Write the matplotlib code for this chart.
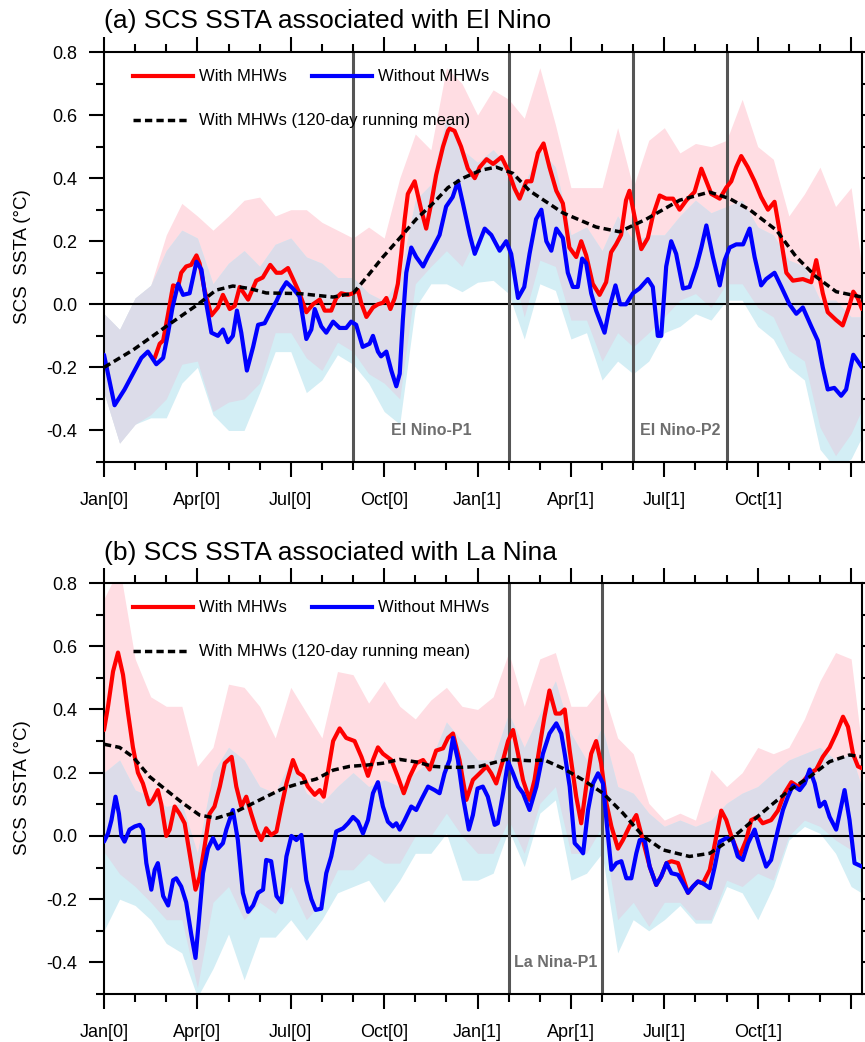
import numpy as np
import matplotlib
matplotlib.use("Agg")
import matplotlib.pyplot as plt
from matplotlib.lines import Line2D

plt.rcParams['font.family'] = ['Liberation Sans', 'DejaVu Sans']
plt.rcParams['axes.unicode_minus'] = False

# ---------------- data (months since Jan[0]) ----------------
MONTH_TICKS = [0, 3, 6, 9, 12, 15, 18, 21, 24]
MONTH_LABELS = ['Jan[0]', 'Apr[0]', 'Jul[0]', 'Oct[0]', 'Jan[1]', 'Apr[1]', 'Jul[1]', 'Oct[1]', '']
Y_TICKS = [-0.4, -0.2, 0.0, 0.2, 0.4, 0.6, 0.8]

BAND_MONTHS = [i * 0.5 for i in range(50)]

# ---- (a) El Nino ----
EN_BLUE = [(0, -0.16), (0.34, -0.32), (0.66, -0.27), (0.93, -0.22), (1.2, -0.17), (1.41, -0.15), (1.68, -0.19),
           (1.9, -0.17), (2.06, -0.09), (2.2, -0.01), (2.38, 0.065), (2.54, 0.03), (2.75, 0.035), (2.97, 0.135),
           (3.13, 0.11), (3.29, 0.0), (3.45, -0.09), (3.66, -0.10), (3.82, -0.08), (3.98, -0.12), (4.14, -0.10),
           (4.27, -0.02), (4.41, -0.09), (4.59, -0.21), (4.79, -0.135), (4.95, -0.065), (5.16, -0.06), (5.37, -0.02),
           (5.54, 0.01), (5.7, 0.045), (5.86, 0.07), (6.07, 0.05), (6.28, 0.025), (6.5, -0.11), (6.66, -0.08),
           (6.77, -0.015), (6.98, -0.07), (7.14, -0.09), (7.36, -0.055), (7.57, -0.075), (7.78, -0.075),
           (7.94, -0.055), (8.1, -0.065), (8.31, -0.135), (8.53, -0.125), (8.64, -0.10), (8.8, -0.15), (8.9, -0.165),
           (9.07, -0.15), (9.23, -0.21), (9.39, -0.26), (9.5, -0.22), (9.6, -0.05), (9.71, 0.10), (9.87, 0.18),
           (10.03, 0.15), (10.25, 0.12), (10.4, 0.15), (10.57, 0.18), (10.78, 0.22), (10.99, 0.31), (11.2, 0.34),
           (11.37, 0.39), (11.53, 0.32), (11.75, 0.22), (11.91, 0.16), (12.07, 0.20), (12.23, 0.24), (12.44, 0.22),
           (12.71, 0.17), (12.92, 0.20), (13.08, 0.16), (13.3, 0.02), (13.5, 0.055), (13.67, 0.16), (13.88, 0.27),
           (14.05, 0.30), (14.21, 0.20), (14.37, 0.17), (14.53, 0.24), (14.74, 0.21), (14.9, 0.10), (15.06, 0.055),
           (15.22, 0.055), (15.36, 0.145), (15.49, 0.13), (15.65, 0.035), (15.81, -0.02), (16.08, -0.09),
           (16.24, -0.01), (16.43, 0.06), (16.58, 0.0), (16.77, 0.0), (16.99, 0.035), (17.2, 0.05), (17.47, 0.08),
           (17.63, 0.055), (17.79, -0.10), (17.9, -0.10), (18.06, 0.12), (18.22, 0.20), (18.38, 0.16), (18.6, 0.05),
           (18.81, 0.055), (19.03, 0.12), (19.19, 0.18), (19.35, 0.25), (19.56, 0.15), (19.78, 0.06), (19.94, 0.14),
           (20.1, 0.18), (20.31, 0.19), (20.53, 0.19), (20.74, 0.24), (20.9, 0.15), (21.11, 0.06), (21.27, 0.08),
           (21.54, 0.10), (21.76, 0.055), (22.02, 0.0), (22.24, -0.03), (22.45, -0.01), (22.72, -0.07),
           (22.93, -0.115), (23.09, -0.20), (23.25, -0.27), (23.46, -0.265), (23.68, -0.29), (23.84, -0.27),
           (23.97, -0.205), (24.07, -0.16), (24.21, -0.18), (24.35, -0.20)]

EN_RED = [(1.63, -0.17), (1.79, -0.125), (1.9, -0.115), (2.06, -0.03), (2.22, 0.06), (2.38, 0.055), (2.48, 0.10),
          (2.64, 0.12), (2.8, 0.125), (2.97, 0.155), (3.07, 0.13), (3.23, 0.045), (3.45, -0.035), (3.66, -0.01),
          (3.82, 0.03), (4.04, -0.015), (4.2, -0.005), (4.36, 0.055), (4.63, 0.015), (4.89, 0.075), (5.1, 0.085),
          (5.34, 0.125), (5.54, 0.10), (5.7, 0.10), (5.91, 0.115), (6.12, 0.07), (6.28, 0.035), (6.5, -0.025),
          (6.71, 0.0), (6.93, 0.015), (7.09, -0.02), (7.3, -0.02), (7.46, 0.02), (7.62, 0.035), (7.84, 0.03),
          (8.0, 0.035), (8.16, 0.045), (8.26, 0.005), (8.43, -0.04), (8.64, -0.01), (8.8, 0.0), (8.96, 0.005),
          (9.07, 0.02), (9.2, -0.015), (9.34, 0.02), (9.44, 0.065), (9.55, 0.16), (9.66, 0.27), (9.76, 0.35),
          (9.98, 0.39), (10.19, 0.30), (10.35, 0.24), (10.51, 0.32), (10.67, 0.41), (10.89, 0.50), (11.05, 0.55),
          (11.1, 0.557), (11.26, 0.55), (11.47, 0.50), (11.69, 0.43), (11.91, 0.40), (12.07, 0.435), (12.29, 0.46),
          (12.5, 0.445), (12.77, 0.467), (12.98, 0.425), (13.19, 0.367), (13.35, 0.335), (13.57, 0.39),
          (13.73, 0.39), (13.94, 0.48), (14.12, 0.51), (14.31, 0.435), (14.53, 0.36), (14.74, 0.32), (14.95, 0.18),
          (15.17, 0.15), (15.33, 0.20), (15.49, 0.155), (15.7, 0.065), (15.92, 0.03), (16.13, 0.07), (16.29, 0.165),
          (16.45, 0.19), (16.61, 0.22), (16.77, 0.33), (16.88, 0.36), (17.04, 0.28), (17.26, 0.175), (17.47, 0.21),
          (17.63, 0.28), (17.85, 0.345), (18.06, 0.335), (18.28, 0.335), (18.49, 0.30), (18.71, 0.33),
          (18.97, 0.356), (19.19, 0.43), (19.35, 0.39), (19.51, 0.35), (19.78, 0.335), (19.99, 0.37), (20.15, 0.39),
          (20.31, 0.435), (20.47, 0.47), (20.68, 0.435), (20.9, 0.39), (21.11, 0.34), (21.33, 0.30), (21.54, 0.325),
          (21.7, 0.235), (21.92, 0.10), (22.13, 0.075), (22.45, 0.08), (22.72, 0.07), (22.88, 0.14), (23.09, 0.035),
          (23.25, -0.025), (23.52, -0.05), (23.73, -0.067), (23.93, -0.01), (24.07, 0.04), (24.21, 0.02),
          (24.35, -0.015)]

EN_MEAN = [(0, -0.2), (0.93, -0.145), (2.0, -0.07), (3.02, 0.0), (3.6, 0.045), (4.14, 0.058), (4.68, 0.05),
           (5.21, 0.036), (6.28, 0.034), (7.36, 0.023), (8.0, 0.035), (8.43, 0.085), (8.96, 0.15), (9.5, 0.21),
           (10.03, 0.27), (10.57, 0.32), (11.05, 0.37), (11.53, 0.40), (12.1, 0.425), (12.6, 0.435), (13.14, 0.415),
           (13.67, 0.36), (14.74, 0.29), (15.81, 0.245), (16.56, 0.23), (17.42, 0.27), (18.49, 0.33), (19.45, 0.356),
           (20.1, 0.335), (20.74, 0.30), (21.6, 0.235), (22.24, 0.15), (22.88, 0.087), (23.52, 0.04), (24.35, 0.023)]

EN_RED_HI = [-0.03, -0.08, 0.02, 0.06, 0.22, 0.32, 0.28, 0.235, 0.28, 0.33, 0.34, 0.28, 0.30, 0.30, 0.26, 0.235,
             0.21, 0.245, 0.21, 0.40, 0.54, 0.49, 0.75, 0.70, 0.60, 0.68, 0.65, 0.59, 0.75, 0.57, 0.37, 0.37, 0.37,
             0.56, 0.37, 0.52, 0.56, 0.48, 0.51, 0.50, 0.52, 0.65, 0.50, 0.46, 0.28, 0.35, 0.435, 0.31, 0.37, 0.0]
EN_RED_LO = [-0.28, -0.44, -0.38, -0.35, -0.30, -0.19, -0.18, -0.34, -0.31, -0.30, -0.25, -0.09, -0.09, -0.17,
             -0.21, -0.12, -0.15, -0.22, -0.25, -0.30, 0.065, 0.12, 0.17, 0.12, 0.22, 0.22, 0.16, -0.04, 0.14, 0.12,
             -0.05, -0.05, -0.18, -0.09, -0.135, -0.09, -0.04, 0.013, 0.034, -0.01, 0.065, 0.065, -0.01, -0.04,
             -0.146, -0.18, -0.39, -0.48, -0.41, -0.30]
EN_BLUE_HI = [-0.03, -0.08, 0.02, 0.06, 0.17, 0.235, 0.21, 0.065, 0.13, 0.17, 0.12, 0.19, 0.21, 0.15, 0.13, 0.085,
              0.085, 0.035, 0.01, 0.085, 0.33, 0.38, 0.59, 0.49, 0.45, 0.49, 0.435, 0.38, 0.49, 0.435, 0.22, 0.245,
              0.17, 0.28, 0.20, 0.22, 0.22, 0.28, 0.33, 0.29, 0.31, 0.33, 0.245, 0.22, 0.14, 0.12, 0.013, 0.013,
              -0.04, -0.04]
EN_BLUE_LO = [-0.28, -0.44, -0.38, -0.36, -0.36, -0.25, -0.20, -0.35, -0.40, -0.40, -0.28, -0.15, -0.15, -0.28,
              -0.24, -0.16, -0.19, -0.25, -0.34, -0.38, -0.01, 0.065, 0.065, 0.04, 0.07, 0.076, 0.034, -0.11, 0.065,
              0.044, -0.11, -0.09, -0.24, -0.18, -0.22, -0.18, -0.09, -0.07, -0.03, -0.05, 0.013, 0.013, -0.07,
              -0.11, -0.20, -0.24, -0.46, -0.52, -0.49, -0.39]
EN_PERIODS = [(8, 13, 'El Nino-P1'), (17, 20, 'El Nino-P2')]

# ---- (b) La Nina ----
LN_RED = [(0, 0.335), (0.13, 0.41), (0.29, 0.52), (0.45, 0.58), (0.61, 0.51), (0.77, 0.39), (0.93, 0.28),
          (1.09, 0.20), (1.25, 0.166), (1.45, 0.10), (1.57, 0.114), (1.73, 0.145), (1.84, 0.10), (2.0, 0.0),
          (2.11, 0.02), (2.27, 0.093), (2.43, 0.07), (2.59, 0.04), (2.75, -0.055), (2.94, -0.17), (3.07, -0.13),
          (3.23, -0.034), (3.39, 0.07), (3.55, 0.093), (3.72, 0.156), (3.88, 0.23), (4.1, 0.25), (4.25, 0.156),
          (4.41, 0.093), (4.57, 0.124), (4.73, 0.07), (4.89, 0.02), (5.05, -0.013), (5.21, 0.024), (5.37, 0.003),
          (5.54, 0.014), (5.7, 0.093), (5.86, 0.166), (6.07, 0.24), (6.23, 0.2), (6.39, 0.19), (6.55, 0.156),
          (6.77, 0.13), (6.93, 0.145), (7.06, 0.124), (7.19, 0.2), (7.36, 0.30), (7.57, 0.34), (7.78, 0.31),
          (8.05, 0.30), (8.27, 0.25), (8.48, 0.19), (8.64, 0.24), (8.8, 0.28), (8.96, 0.26), (9.23, 0.24),
          (9.44, 0.187), (9.63, 0.135), (9.82, 0.187), (10.03, 0.23), (10.25, 0.24), (10.46, 0.21), (10.67, 0.27),
          (10.89, 0.277), (11.05, 0.31), (11.21, 0.324), (11.42, 0.24), (11.64, 0.114), (11.85, 0.177),
          (12.07, 0.198), (12.29, 0.22), (12.44, 0.198), (12.6, 0.166), (12.82, 0.24), (12.98, 0.30),
          (13.14, 0.335), (13.3, 0.26), (13.46, 0.177), (13.67, 0.114), (13.83, 0.177), (13.99, 0.28),
          (14.15, 0.377), (14.31, 0.46), (14.51, 0.387), (14.66, 0.387), (14.8, 0.40), (14.96, 0.27),
          (15.17, 0.124), (15.33, 0.04), (15.49, 0.156), (15.65, 0.26), (15.81, 0.30), (15.97, 0.23),
          (16.14, 0.103), (16.3, 0.03), (16.51, -0.04), (16.67, -0.013), (16.88, 0.03), (17.1, 0.066),
          (17.31, -0.013), (17.53, -0.097), (17.74, -0.155), (17.9, -0.128), (18.07, -0.086), (18.23, -0.08),
          (18.44, -0.086), (18.56, -0.12), (18.76, -0.18), (18.92, -0.16), (19.08, -0.144), (19.24, -0.15),
          (19.46, -0.107), (19.67, 0.0), (19.83, 0.08), (19.99, 0.05), (20.15, 0.0), (20.41, -0.065),
          (20.63, -0.013), (20.79, 0.05), (21.0, 0.06), (21.16, 0.04), (21.43, 0.05), (21.65, 0.08),
          (21.86, 0.135), (22.08, 0.17), (22.29, 0.156), (22.5, 0.177), (22.67, 0.198), (22.88, 0.21),
          (23.09, 0.25), (23.31, 0.28), (23.52, 0.324), (23.74, 0.377), (23.9, 0.345), (24.06, 0.26),
          (24.22, 0.22), (24.35, 0.214)]

LN_BLUE = [(0, -0.018), (0.13, 0.008), (0.24, 0.05), (0.37, 0.124), (0.48, 0.07), (0.56, 0.0), (0.66, -0.018),
           (0.82, 0.02), (0.99, 0.03), (1.15, 0.035), (1.25, 0.02), (1.36, -0.086), (1.52, -0.17), (1.63, -0.107),
           (1.73, -0.086), (1.9, -0.19), (2.06, -0.22), (2.22, -0.14), (2.32, -0.134), (2.48, -0.16), (2.64, -0.21),
           (2.8, -0.31), (2.94, -0.386), (3.05, -0.265), (3.18, -0.118), (3.34, -0.04), (3.5, -0.007),
           (3.66, -0.04), (3.82, -0.023), (3.93, 0.02), (4.14, 0.082), (4.3, -0.013), (4.46, -0.18), (4.63, -0.24),
           (4.79, -0.22), (4.95, -0.18), (5.11, -0.17), (5.21, -0.076), (5.37, -0.08), (5.54, -0.19), (5.7, -0.21),
           (5.86, -0.065), (6.02, 0.0), (6.18, -0.013), (6.34, 0.003), (6.5, -0.14), (6.66, -0.2), (6.8, -0.234),
           (6.98, -0.23), (7.14, -0.118), (7.3, -0.065), (7.46, 0.014), (7.68, 0.024), (7.84, 0.04), (8.0, 0.06),
           (8.16, 0.045), (8.32, 0.008), (8.48, 0.05), (8.64, 0.135), (8.8, 0.17), (8.96, 0.093), (9.12, 0.045),
           (9.28, 0.03), (9.39, 0.04), (9.5, 0.02), (9.66, 0.05), (9.87, 0.093), (10.03, 0.082), (10.19, 0.114),
           (10.41, 0.156), (10.62, 0.145), (10.78, 0.135), (10.94, 0.198), (11.1, 0.24), (11.21, 0.31),
           (11.37, 0.24), (11.53, 0.124), (11.72, 0.02), (11.85, 0.066), (12.0, 0.15), (12.17, 0.156),
           (12.33, 0.124), (12.55, 0.035), (12.65, 0.04), (12.82, 0.135), (12.98, 0.235), (13.14, 0.198),
           (13.3, 0.156), (13.46, 0.135), (13.67, 0.082), (13.89, 0.156), (14.1, 0.26), (14.31, 0.324),
           (14.53, 0.356), (14.69, 0.324), (14.8, 0.26), (14.96, 0.156), (15.12, -0.023), (15.28, -0.04),
           (15.39, -0.055), (15.55, 0.082), (15.71, 0.166), (15.87, 0.198), (16.03, 0.166), (16.14, 0.05),
           (16.3, -0.107), (16.46, -0.086), (16.62, -0.08), (16.78, -0.134), (16.94, -0.134), (17.1, -0.055),
           (17.21, -0.013), (17.37, -0.013), (17.53, -0.097), (17.74, -0.155), (17.9, -0.128), (18.07, -0.086),
           (18.23, -0.118), (18.44, -0.123), (18.6, -0.15), (18.76, -0.18), (18.92, -0.16), (19.08, -0.144),
           (19.24, -0.15), (19.46, -0.165), (19.62, -0.097), (19.78, -0.018), (19.99, -0.007), (20.2, -0.013),
           (20.36, -0.065), (20.52, -0.076), (20.69, -0.023), (20.9, 0.02), (21.06, -0.034), (21.27, -0.097),
           (21.43, -0.076), (21.65, 0.02), (21.81, 0.082), (21.97, 0.124), (22.13, 0.16), (22.35, 0.145),
           (22.51, 0.166), (22.67, 0.21), (22.83, 0.166), (22.99, 0.093), (23.15, 0.108), (23.31, 0.06),
           (23.52, 0.02), (23.68, 0.093), (23.79, 0.145), (23.95, 0.05), (24.11, -0.086), (24.35, -0.097)]

LN_MEAN = [(0, 0.29), (0.5, 0.28), (0.93, 0.25), (1.47, 0.187), (2.0, 0.145), (2.54, 0.103), (3.07, 0.066),
           (3.6, 0.056), (4.14, 0.072), (4.68, 0.098), (5.21, 0.124), (5.75, 0.15), (6.28, 0.166), (6.82, 0.18),
           (7.36, 0.208), (7.89, 0.22), (8.43, 0.224), (8.96, 0.23), (9.5, 0.242), (10.03, 0.234), (10.57, 0.22),
           (11.05, 0.217), (11.53, 0.217), (12.07, 0.22), (12.92, 0.242), (13.67, 0.238), (14.15, 0.24),
           (14.74, 0.214), (15.39, 0.177), (16.03, 0.135), (16.67, 0.072), (17.31, 0.0), (17.95, -0.044),
           (18.81, -0.065), (19.46, -0.055), (20.1, -0.013), (20.74, 0.04), (21.38, 0.093), (22.02, 0.145),
           (22.67, 0.187), (23.31, 0.235), (23.95, 0.256), (24.35, 0.25)]

LN_RED_HI = [0.75, 0.85, 0.56, 0.44, 0.41, 0.41, 0.22, 0.28, 0.48, 0.47, 0.41, 0.31, 0.47, 0.39, 0.31, 0.52,
             0.51, 0.42, 0.49, 0.41, 0.37, 0.43, 0.47, 0.41, 0.40, 0.44, 0.58, 0.41, 0.56, 0.58, 0.41, 0.41, 0.47,
             0.31, 0.26, 0.103, 0.05, 0.072, 0.05, 0.21, 0.156, 0.20, 0.28, 0.26, 0.28, 0.37, 0.49, 0.58, 0.56, 0.156]
LN_RED_LO = [-0.05, -0.12, -0.16, -0.21, -0.265, -0.265, -0.48, -0.21, -0.16, -0.265, -0.21, -0.245, -0.16,
             -0.265, -0.21, -0.107, -0.107, -0.055, -0.086, -0.086, 0.0, 0.0, 0.072, 0.0, -0.055, -0.055, 0.05,
             -0.055, 0.103, 0.156, -0.055, -0.055, 0.03, -0.265, -0.21, -0.286, -0.21, -0.21, -0.265, -0.265,
             -0.14, -0.16, -0.118, -0.14, 0.0, 0.05, 0.03, -0.013, -0.044, -0.107]
LN_BLUE_HI = [0.20, 0.24, 0.145, 0.124, 0.093, 0.103, -0.055, 0.20, 0.28, 0.24, 0.156, 0.135, 0.24, 0.135,
              0.103, 0.156, 0.20, 0.156, 0.177, 0.156, 0.20, 0.24, 0.36, 0.30, 0.24, 0.24, 0.387, 0.28, 0.387,
              0.49, 0.324, 0.24, 0.345, 0.156, 0.135, 0.072, 0.03, 0.05, 0.03, 0.05, 0.103, 0.135, 0.156, 0.20,
              0.24, 0.26, 0.28, 0.24, 0.26, 0.103]
LN_BLUE_LO = [-0.30, -0.20, -0.22, -0.265, -0.34, -0.37, -0.51, -0.42, -0.31, -0.455, -0.32, -0.32, -0.265,
              -0.33, -0.265, -0.18, -0.16, -0.14, -0.21, -0.14, -0.055, -0.055, 0.008, -0.14, -0.14, -0.118, 0.02,
              -0.097, 0.072, 0.114, -0.14, -0.118, -0.055, -0.37, -0.265, -0.30, -0.265, -0.22, -0.276, -0.276,
              -0.16, -0.18, -0.265, -0.16, -0.013, 0.03, 0.008, -0.055, -0.16, -0.19]
LN_PERIODS = [(13, 16, 'La Nina-P1')]

# ---------------- styling ----------------
PINK = '#ffdde3'
LBLUE = '#d3eef5'
LAV = '#dcdce9'
RED = '#ff0000'
BLUE = '#0000ff'
PERIOD_GRAY = '#555555'
TEXT_GRAY = '#6e6e6e'
LINE_W = 3.0
DASH_W = 2.5
DASH = (0, (2.1, 1.2))

W, H = 865, 1042
fig = plt.figure(figsize=(W / 100, H / 100), dpi=100)


def draw_panel(ax, red, blue, mean, red_hi, red_lo, blue_hi, blue_lo, periods):
    bx = np.array(BAND_MONTHS)
    rhi, rlo = np.array(red_hi), np.array(red_lo)
    bhi, blo = np.array(blue_hi), np.array(blue_lo)
    ax.fill_between(bx, rlo, rhi, color=PINK, lw=0, zorder=1)
    ax.fill_between(bx, blo, bhi, color=LBLUE, lw=0, zorder=1.1)
    olo, ohi = np.maximum(rlo, blo), np.minimum(rhi, bhi)
    ax.fill_between(bx, olo, ohi, where=ohi >= olo, interpolate=True, color=LAV, lw=0, zorder=1.2)

    ax.axhline(0, color='black', lw=1.5, zorder=2)
    for a, b, lab in periods:
        ax.axvline(a, color=PERIOD_GRAY, lw=2.2, zorder=2.1)
        ax.axvline(b, color=PERIOD_GRAY, lw=2.2, zorder=2.1)
        ax.text((a + b) / 2, -0.4, lab, ha='center', va='center', fontsize=11.5,
                fontweight='bold', color=TEXT_GRAY, zorder=2.2)

    rx, ry = zip(*red)
    bxl, byl = zip(*blue)
    mx, my = zip(*mean)
    ax.plot(rx, ry, color=RED, lw=LINE_W, zorder=3, solid_joinstyle='round', solid_capstyle='round')
    ax.plot(bxl, byl, color=BLUE, lw=LINE_W, zorder=3.1, solid_joinstyle='round', solid_capstyle='round')
    ax.plot(mx, my, color='black', lw=DASH_W, ls=DASH, zorder=3.2)

    ax.set_xlim(0, 24.35)
    ax.set_ylim(-0.5, 0.8)
    ax.set_xticks(MONTH_TICKS)
    ax.set_xticklabels(MONTH_LABELS)
    ax.set_xticks(np.arange(0, 25, 1), minor=True)
    ax.set_yticks(Y_TICKS)
    ax.set_yticklabels(['%.1f' % v for v in Y_TICKS])
    ax.set_yticks(np.arange(-0.5, 0.81, 0.1), minor=True)
    ax.tick_params(which='both', direction='out', top=True, right=True, width=1.5, labelsize=13)
    ax.tick_params(which='major', length=10.8)
    ax.tick_params(which='minor', length=5.8)
    ax.tick_params(axis='x', which='major', pad=11)
    ax.tick_params(axis='y', which='major', pad=8.5)
    for s in ax.spines.values():
        s.set_linewidth(1.5)

    # legend drawn in axes coordinates
    tr = ax.transAxes
    ax.add_line(Line2D([0.038, 0.117], [0.941, 0.941], transform=tr, color=RED, lw=LINE_W, zorder=5))
    ax.text(0.125, 0.941, 'With MHWs', transform=tr, fontsize=12, va='center', ha='left', zorder=5)
    ax.add_line(Line2D([0.274, 0.354], [0.941, 0.941], transform=tr, color=BLUE, lw=LINE_W, zorder=5))
    ax.text(0.361, 0.941, 'Without MHWs', transform=tr, fontsize=12, va='center', ha='left', zorder=5)
    ax.add_line(Line2D([0.038, 0.113], [0.834, 0.834], transform=tr, color='black', lw=DASH_W,
                       ls=DASH, zorder=5))
    ax.text(0.125, 0.834, 'With MHWs (120-day running mean)', transform=tr, fontsize=12,
            va='center', ha='left', zorder=5)


axa = fig.add_axes([104 / W, 580 / H, 758 / W, 410 / H])
axb = fig.add_axes([104 / W, 48 / H, 758 / W, 411 / H])

draw_panel(axa, EN_RED, EN_BLUE, EN_MEAN, EN_RED_HI, EN_RED_LO, EN_BLUE_HI, EN_BLUE_LO, EN_PERIODS)
draw_panel(axb, LN_RED, LN_BLUE, LN_MEAN, LN_RED_HI, LN_RED_LO, LN_BLUE_HI, LN_BLUE_LO, LN_PERIODS)

fig.text(104 / W, 1 - 21 / H, '(a) SCS SSTA associated with El Nino', fontsize=19, va='center', ha='left')
fig.text(104 / W, 1 - 553 / H, '(b) SCS SSTA associated with La Nina', fontsize=19, va='center', ha='left')
fig.text(23 / W, 1 - 257 / H, 'SCS  SSTA (°C)', rotation=90, va='center', ha='center', fontsize=13.5)
fig.text(23 / W, 1 - 788 / H, 'SCS  SSTA (°C)', rotation=90, va='center', ha='center', fontsize=13.5)

fig.savefig('out.png', dpi=100)
